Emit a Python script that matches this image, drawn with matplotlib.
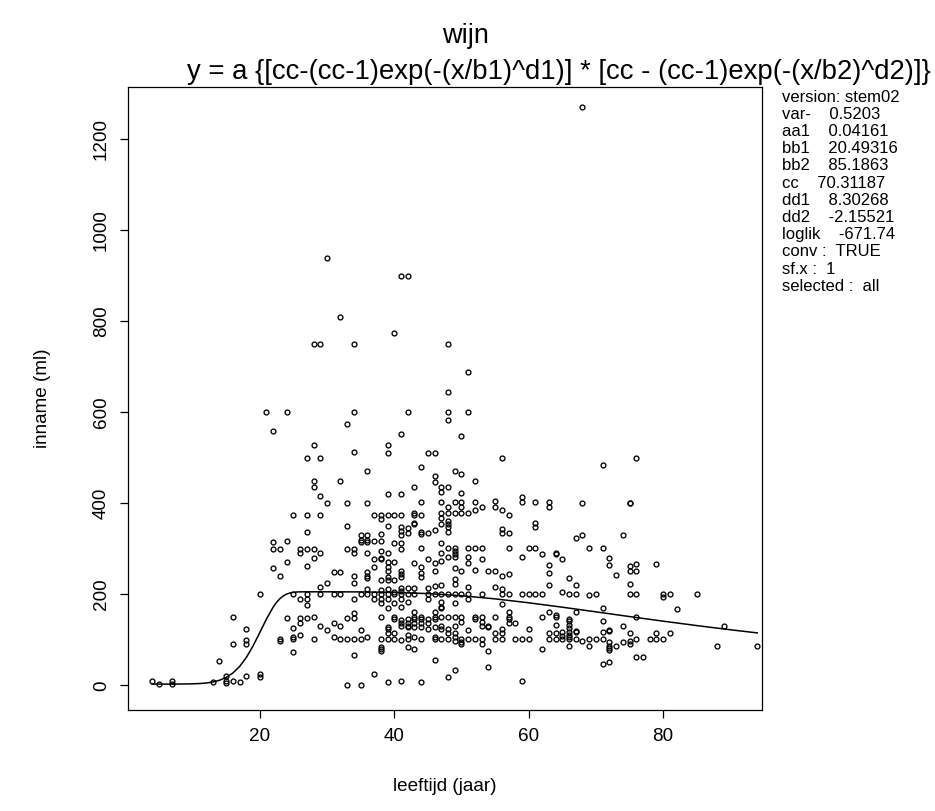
import matplotlib
matplotlib.use("Agg")
import matplotlib.pyplot as plt

plt.rcParams['font.family'] = ['Liberation Sans', 'DejaVu Sans']

# ---- data ----
leeftijd = [
    4, 5, 7, 7, 13, 14, 15, 15, 15,
    16, 16, 16, 17, 18, 18, 18, 18,
    20, 20, 20, 21, 22, 22, 22, 22,
    23, 23, 23, 23, 24, 24, 24, 24,
    25, 25, 25, 25, 25, 25,
    26, 26, 26, 26, 26, 26,
    27, 27, 27, 27, 27, 27, 27, 27, 27,
    28, 28, 28, 28, 28, 28, 28, 28,
    29, 29, 29, 29, 29, 29, 29, 29,
    30, 30, 30, 30,
    31, 31, 31, 31,
    32, 32, 32, 32, 32, 32,
    33, 33, 33, 33, 33, 33, 33,
    34, 34, 34, 34, 34, 34, 34, 34, 34, 34, 34, 34,
    35, 35, 35, 35, 35, 35, 35,
    36, 36, 36, 36, 36, 36, 36, 36, 36, 36, 36, 36,
    37, 37, 37, 37, 37, 37, 37,
    38, 38, 38, 38, 38, 38, 38, 38, 38, 38, 38, 38, 38, 38, 38, 38, 38,
    39, 39, 39, 39, 39, 39, 39, 39, 39, 39, 39, 39, 39, 39, 39, 39, 39, 39, 39, 39,
    40, 40, 40, 40, 40, 40, 40, 40, 40, 40, 40, 40,
    41, 41, 41, 41, 41, 41, 41, 41, 41, 41, 41, 41, 41, 41, 41, 41, 41, 41, 41, 41, 41, 41,
    42, 42, 42, 42, 42, 42, 42, 42, 42, 42, 42, 42, 42, 42,
    43, 43, 43, 43, 43, 43, 43, 43, 43, 43, 43, 43, 43, 43, 43,
    44, 44, 44, 44, 44, 44, 44, 44, 44, 44, 44, 44, 44, 44, 44,
    45, 45, 45, 45, 45, 45, 45, 45, 45,
    46, 46, 46, 46, 46, 46, 46, 46, 46, 46, 46, 46, 46, 46, 46,
    47, 47, 47, 47, 47, 47, 47, 47, 47, 47, 47, 47, 47, 47, 47, 47, 47, 47,
    48, 48, 48, 48, 48, 48, 48, 48, 48, 48, 48, 48, 48, 48, 48, 48, 48, 48, 48,
    49, 49, 49, 49, 49, 49, 49, 49, 49, 49, 49, 49, 49, 49, 49, 49, 49, 49,
    50, 50, 50, 50, 50, 50, 50, 50, 50, 50, 50, 50, 50,
    51, 51, 51, 51, 51, 51, 51, 51, 51, 51, 51,
    52, 52, 52, 52, 52, 52, 52, 52,
    53, 53, 53, 53, 53, 53, 53, 53, 53,
    54, 54, 54, 54, 54,
    55, 55, 55, 55, 55, 55, 55,
    56, 56, 56, 56, 56, 56, 56, 56, 56, 56, 56,
    57, 57, 57, 57, 57, 57, 57, 57, 57,
    58, 58,
    59, 59, 59, 59, 59, 59,
    60, 60, 60, 60,
    61, 61, 61, 61, 61,
    62, 62, 62, 62,
    63, 63, 63, 63, 63, 63, 63, 63,
    64, 64, 64, 64, 64, 64, 64,
    65, 65, 65, 65, 65,
    66, 66, 66, 66, 66, 66, 66, 66, 66, 66, 66,
    67, 67, 67, 67, 67, 67, 67,
    68, 68, 68, 68,
    69, 69, 69, 69,
    70, 70,
    71, 71, 71, 71, 71, 71, 71,
    72, 72, 72, 72, 72, 72, 72, 72, 72,
    73, 73,
    74, 74, 74,
    75, 75, 75, 75, 75, 75, 75, 75, 75,
    76, 76, 76, 76, 76, 76, 76,
    77, 78, 79, 79, 79, 80, 80, 80, 81, 81, 82, 85, 88, 89, 94,
]

inname = [
    9, 3, 9, 3, 8, 54, 20, 10, 5,
    151, 91, 9, 8, 125, 100, 90, 20,
    200, 25, 18, 600, 560, 315, 300, 257,
    300, 240, 102, 98, 600, 318, 272, 149,
    375, 200, 126, 107, 102, 74,
    300, 290, 189, 149, 138, 111,
    500, 375, 337, 300, 263, 200, 189, 177, 149,
    750, 528, 450, 437, 300, 280, 151, 102,
    750, 500, 417, 375, 292, 216, 200, 131,
    940, 400, 224, 121,
    250, 200, 138, 106,
    810, 450, 250, 200, 131, 102,
    575, 400, 350, 300, 149, 102, 1,
    750, 600, 514, 300, 290, 240, 225, 189, 159, 149, 102, 67,
    330, 320, 316, 200, 121, 102, 1,
    471, 400, 330, 320, 315, 292, 250, 240, 235, 212, 200, 106,
    375, 318, 277, 260, 200, 189, 25,
    375, 365, 332, 318, 296, 280, 277, 232, 210, 200, 189, 181, 151, 102, 85, 80, 76,
    528, 511, 420, 375, 350, 292, 272, 260, 252, 239, 232, 212, 200, 189, 171, 128, 124, 116, 102, 8,
    775, 375, 312, 272, 232, 205, 200, 181, 151, 146, 116, 102,
    900, 552, 420, 375, 348, 340, 330, 312, 300, 252, 244, 239, 213, 208, 200, 190, 172, 144, 137, 130, 100, 9,
    900, 600, 346, 335, 214, 200, 184, 146, 138, 131, 128, 111, 102, 85,
    437, 378, 375, 358, 354, 270, 214, 200, 161, 151, 146, 138, 128, 106, 80,
    480, 402, 375, 338, 332, 301, 260, 247, 239, 151, 146, 138, 128, 102, 7,
    510, 335, 277, 214, 200, 189, 146, 138, 124,
    510, 460, 448, 342, 270, 252, 219, 200, 161, 151, 146, 128, 106, 102, 55,
    437, 426, 402, 378, 367, 354, 312, 292, 274, 221, 200, 184, 173, 170, 151, 131, 124, 102,
    750, 644, 600, 584, 437, 392, 378, 362, 354, 349, 338, 301, 282, 200, 151, 124, 116, 102, 18,
    472, 402, 378, 301, 296, 289, 283, 257, 233, 223, 200, 182, 151, 131, 116, 106, 98, 34,
    548, 464, 422, 402, 392, 378, 252, 200, 151, 140, 102, 95, 90,
    689, 600, 378, 301, 282, 270, 216, 200, 189, 121, 102,
    450, 402, 385, 301, 254, 151, 146, 102,
    392, 301, 277, 200, 151, 140, 131, 102, 92,
    252, 131, 128, 76, 41,
    406, 391, 252, 216, 151, 116, 102,
    500, 386, 343, 336, 240, 211, 200, 179, 124, 116, 102,
    374, 335, 301, 244, 200, 161, 151, 146, 138,
    138, 102,
    413, 402, 282, 200, 102, 10,
    301, 200, 124, 102,
    402, 358, 349, 301, 200,
    289, 200, 151, 80,
    402, 391, 265, 248, 221, 161, 116, 102,
    292, 289, 155, 151, 133, 116, 102,
    277, 205, 117, 109, 102,
    235, 200, 146, 141, 133, 126, 117, 111, 106, 102, 87,
    325, 220, 200, 161, 120, 117, 102,
    1270, 400, 331, 98,
    301, 198, 102, 87,
    200, 102,
    485, 301, 171, 142, 117, 102, 46,
    280, 265, 122, 119, 96, 87, 82, 77, 51,
    243, 87,
    331, 130, 96,
    400, 400, 263, 252, 222, 200, 115, 98, 91,
    500, 266, 252, 200, 151, 102, 63,
    63, 102, 267, 115, 102, 200, 195, 102, 200, 115, 167, 200, 87, 130, 86,
]

# fitted curve, values
curve_x = [4, 6, 8, 10, 11, 12, 13, 14, 15, 16, 17, 18, 19, 20, 21, 22, 22.5,
           23, 23.5, 24, 24.5, 25, 25.5, 26, 28, 30, 35, 40, 45, 50, 55, 60,
           65, 70, 75, 80, 85, 90, 94]
curve_y = [2.9, 2.9, 3.0, 3.5, 4.1, 5.3, 7.5, 11.3, 17.6, 27.3, 41.7, 61.4,
           86.8, 116.1, 146.1, 172.3, 182.6, 190.8, 196.7, 200.8, 203.2,
           204.6, 205.3, 205.6, 205.7, 205.7, 205.5, 204.5, 201.8, 197.1,
           190.2, 181.6, 171.9, 161.7, 151.3, 141.2, 131.5, 122.3, 115.4]

x_ticks = [20, 40, 60, 80]
y_ticks = [0, 200, 400, 600, 800, 1000, 1200]

title = "wijn"
subtitle = "y = a {[cc-(cc-1)exp(-(x/b1)^d1)] * [cc - (cc-1)exp(-(x/b2)^d2)]}"
info_lines = [
    "version: stem02",
    "var-    0.5203",
    "aa1    0.04161",
    "bb1    20.49316",
    "bb2    85.1863",
    "cc    70.31187",
    "dd1    8.30268",
    "dd2    -2.15521",
    "loglik    -671.74",
    "conv :  TRUE",
    "sf.x :  1",
    "selected :  all",
]

# ---- figure ----
W, H = 935, 811
fig = plt.figure(figsize=(W / 100, H / 100), dpi=100)
L, R, T, B = 128, 762, 87, 710
ax = fig.add_axes([L / W, 1 - B / H, (R - L) / W, (B - T) / H])

ax.plot(leeftijd, inname, linestyle='none', marker='o', ms=3.5,
        mfc='none', mec='black', mew=0.95)
ax.plot(curve_x, curve_y, color='black', lw=1.1)

ax.set_xlim(0.4, 94.7)
ax.set_ylim(-54, 1315)
ax.set_xticks(x_ticks)
ax.set_yticks(y_ticks)
ax.set_yticklabels([str(v) for v in y_ticks], rotation=90, va='center')
ax.tick_params(direction='out', length=6, width=0.9, labelsize=13.6, pad=7)
for s in ax.spines.values():
    s.set_linewidth(0.9)

ax.set_xlabel("leeftijd (jaar)", fontsize=13.6, labelpad=24)
ax.set_ylabel("inname (ml)", fontsize=13.6, labelpad=30)

fig.text(465 / W, 1 - 36 / H, title, ha='center', va='center', fontsize=19.5)
fig.text(931 / W, 1 - 72 / H, subtitle, ha='right', va='center', fontsize=19.8)

y0 = 97
for i, line in enumerate(info_lines):
    fig.text(782 / W, 1 - (y0 + i * 17.2) / H, line, ha='left', va='center',
             fontsize=12)

fig.savefig("out.png", dpi=100)
